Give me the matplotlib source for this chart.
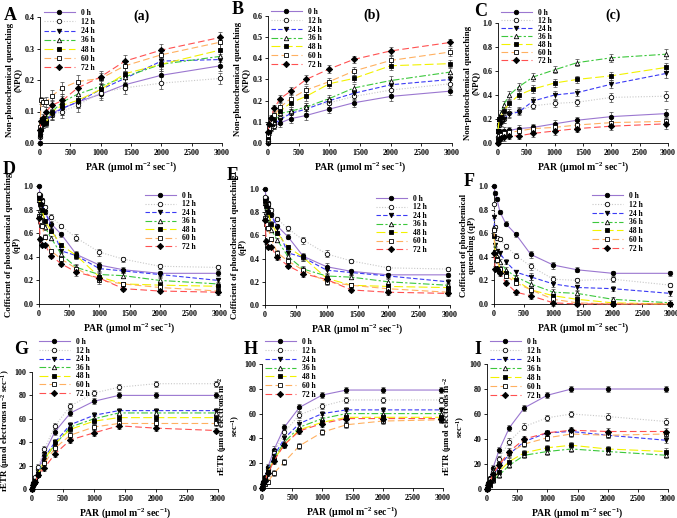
import matplotlib
matplotlib.use("Agg")
import matplotlib.pyplot as plt

plt.rcParams['font.family'] = ['Liberation Serif', 'DejaVu Serif']
plt.rcParams['font.weight'] = 'bold'
plt.rcParams['mathtext.fontset'] = 'custom'
plt.rcParams['mathtext.rm'] = 'Liberation Serif:bold'
plt.rcParams['mathtext.bf'] = 'Liberation Serif:bold'
plt.rcParams['mathtext.it'] = 'Liberation Serif:bold'
plt.rcParams['mathtext.default'] = 'bf'

# ---------------- data ----------------
par = [0, 20, 50, 100, 200, 370, 620, 1000, 1400, 2000, 2970]
labels = ["0 h", "12 h", "24 h", "36 h", "48 h", "60 h", "72 h"]

npq_a = [
    [0.0, 0.04, 0.06, 0.07, 0.095, 0.11, 0.13, 0.155, 0.185, 0.215, 0.245],
    [0.02, 0.05, 0.07, 0.08, 0.09, 0.10, 0.12, 0.16, 0.175, 0.19, 0.205],
    [0.02, 0.05, 0.06, 0.07, 0.09, 0.11, 0.13, 0.17, 0.205, 0.26, 0.265],
    [0.03, 0.06, 0.07, 0.08, 0.10, 0.13, 0.155, 0.18, 0.21, 0.25, 0.275],
    [0.03, 0.06, 0.07, 0.065, 0.10, 0.12, 0.135, 0.17, 0.22, 0.25, 0.295],
    [0.05, 0.135, 0.13, 0.13, 0.15, 0.175, 0.195, 0.205, 0.245, 0.28, 0.32],
    [0.04, 0.07, 0.08, 0.10, 0.12, 0.135, 0.175, 0.21, 0.26, 0.295, 0.335],
]
npq_b = [
    [0.0, 0.05, 0.07, 0.08, 0.095, 0.115, 0.13, 0.16, 0.19, 0.22, 0.245],
    [0.01, 0.05, 0.07, 0.08, 0.12, 0.14, 0.17, 0.19, 0.22, 0.25, 0.28],
    [0.01, 0.05, 0.08, 0.09, 0.11, 0.14, 0.16, 0.20, 0.235, 0.275, 0.30],
    [0.02, 0.06, 0.08, 0.10, 0.14, 0.15, 0.17, 0.21, 0.26, 0.295, 0.335],
    [0.03, 0.06, 0.09, 0.11, 0.15, 0.19, 0.22, 0.28, 0.305, 0.365, 0.375],
    [0.04, 0.07, 0.10, 0.13, 0.17, 0.21, 0.25, 0.29, 0.34, 0.39, 0.43],
    [0.05, 0.09, 0.12, 0.165, 0.21, 0.245, 0.30, 0.35, 0.395, 0.435, 0.475],
]
npq_c = [
    [0.0, 0.08, 0.09, 0.10, 0.105, 0.12, 0.13, 0.16, 0.19, 0.22, 0.245],
    [0.05, 0.15, 0.18, 0.20, 0.25, 0.27, 0.31, 0.33, 0.34, 0.38, 0.39],
    [0.10, 0.15, 0.17, 0.20, 0.24, 0.26, 0.35, 0.40, 0.42, 0.49, 0.58],
    [0.10, 0.20, 0.25, 0.32, 0.40, 0.47, 0.55, 0.61, 0.67, 0.71, 0.74],
    [0.10, 0.20, 0.22, 0.27, 0.33, 0.40, 0.45, 0.50, 0.53, 0.56, 0.63],
    [0.03, 0.06, 0.07, 0.08, 0.09, 0.10, 0.12, 0.13, 0.15, 0.17, 0.18],
    [0.0, 0.03, 0.04, 0.05, 0.06, 0.06, 0.08, 0.10, 0.12, 0.14, 0.16],
]
qp_d = [
    [1.0, 0.92, 0.88, 0.78, 0.68, 0.59, 0.42, 0.33, 0.29, 0.26, 0.26],
    [0.93, 0.90, 0.87, 0.82, 0.74, 0.66, 0.56, 0.44, 0.38, 0.32, 0.31],
    [0.90, 0.87, 0.84, 0.78, 0.66, 0.45, 0.41, 0.30, 0.28, 0.25, 0.20],
    [0.88, 0.80, 0.75, 0.65, 0.56, 0.42, 0.31, 0.25, 0.24, 0.20, 0.17],
    [0.90, 0.85, 0.80, 0.70, 0.62, 0.50, 0.41, 0.23, 0.17, 0.16, 0.15],
    [0.75, 0.70, 0.66, 0.57, 0.45, 0.38, 0.30, 0.20, 0.17, 0.14, 0.11],
    [0.73, 0.55, 0.50, 0.50, 0.41, 0.34, 0.27, 0.22, 0.13, 0.11, 0.10],
]
qp_e = [
    [1.0, 0.92, 0.88, 0.78, 0.68, 0.59, 0.42, 0.33, 0.29, 0.26, 0.26],
    [0.93, 0.90, 0.87, 0.82, 0.74, 0.66, 0.56, 0.44, 0.38, 0.32, 0.31],
    [0.90, 0.87, 0.84, 0.78, 0.66, 0.45, 0.41, 0.30, 0.28, 0.25, 0.20],
    [0.88, 0.80, 0.75, 0.65, 0.56, 0.42, 0.31, 0.25, 0.24, 0.20, 0.17],
    [0.90, 0.85, 0.80, 0.70, 0.62, 0.50, 0.41, 0.23, 0.17, 0.16, 0.15],
    [0.75, 0.70, 0.66, 0.57, 0.45, 0.38, 0.30, 0.20, 0.17, 0.14, 0.11],
    [0.73, 0.55, 0.50, 0.50, 0.41, 0.34, 0.27, 0.22, 0.13, 0.11, 0.10],
]
qp_f = [
    [1.0, 0.94, 0.89, 0.78, 0.68, 0.59, 0.42, 0.33, 0.29, 0.26, 0.26],
    [0.85, 0.65, 0.56, 0.55, 0.49, 0.41, 0.32, 0.21, 0.20, 0.21, 0.16],
    [0.74, 0.50, 0.45, 0.43, 0.36, 0.27, 0.23, 0.17, 0.14, 0.13, 0.09],
    [0.64, 0.47, 0.41, 0.36, 0.29, 0.23, 0.17, 0.10, 0.09, 0.04, 0.01],
    [0.58, 0.43, 0.38, 0.30, 0.26, 0.20, 0.12, 0.07, 0.04, 0.01, 0.0],
    [0.63, 0.44, 0.37, 0.30, 0.24, 0.18, 0.12, 0.04, 0.01, 0.0, 0.0],
    [0.43, 0.30, 0.30, 0.26, 0.18, 0.10, 0.07, 0.01, 0.0, 0.0, 0.0],
]
etr_g = [
    [0, 4, 8, 17, 31, 49, 65, 75, 80, 80, 80],
    [0, 5, 10, 19, 34, 54, 71, 82, 87, 90, 90],
    [0, 4, 7, 13, 27, 40, 55, 63, 67, 67, 67],
    [0, 4, 7, 13, 25, 38, 53, 60, 65, 65, 65],
    [0, 4, 7, 13, 25, 39, 51, 58, 61, 61, 61],
    [0, 3, 6, 12, 22, 35, 46, 53, 56, 56, 56],
    [0, 3, 6, 12, 18, 30, 42, 48, 54, 52, 50],
]
etr_h = [
    [0, 5, 9, 17, 31, 49, 65, 75, 79, 79, 79],
    [0, 4, 8, 15, 28, 45, 59, 66, 71, 71, 71],
    [0, 4, 8, 15, 26, 40, 52, 60, 63, 63, 63],
    [0, 3, 7, 14, 24, 37, 49, 56, 60, 60, 60],
    [0, 3, 7, 13, 23, 35, 47, 53, 57, 57, 57],
    [0, 1, 3, 5, 12, 21, 34, 45, 51, 54, 55],
    [0, 3, 6, 12, 22, 35, 46, 52, 56, 56, 56],
]
etr_i = [
    [0, 5, 9, 17, 31, 49, 65, 75, 80, 80, 80],
    [0, 4, 8, 14, 24, 38, 50, 57, 60, 58, 54],
    [0, 3, 6, 10, 18, 28, 38, 45, 46, 43, 39],
    [0, 1, 3, 7, 11, 19, 27, 30, 32, 30, 27],
    [0, 2, 4, 8, 14, 22, 29, 33, 35, 32, 30],
    [0, 3, 6, 11, 20, 29, 36, 41, 44, 43, 44],
    [0, 3, 6, 12, 19, 30, 40, 45, 47, 46, 46],
]

# error bars (approximate, per PAR step)
err_npq_ab = [0.005, 0.01, 0.012, 0.015, 0.018, 0.02, 0.02, 0.018, 0.018, 0.02, 0.018]
err_npq_c = [0.01, 0.02, 0.025, 0.03, 0.03, 0.03, 0.03, 0.03, 0.03, 0.035, 0.04]
err_qp = [0.01, 0.02, 0.02, 0.02, 0.02, 0.02, 0.03, 0.03, 0.02, 0.02, 0.02]
err_etr = [0.5, 1.0, 1.5, 2.0, 2.5, 2.5, 2.5, 2.5, 2.5, 2.5, 2.5]

colors = ["#9B77D0", "#C8C8C8", "#3B3BF5", "#3CC83C", "#F2F200", "#FFB060", "#FF5050"]
dashes = [None, (1, 1.5), (4, 2), (6, 2, 2, 2), (8, 3), (6, 3), (6, 3)]
markers = ["o", "o", "v", "^", "s", "s", "D"]
mfaces = ["black", "white", "black", "white", "black", "white", "black"]

W, H = 677, 518
fig = plt.figure(figsize=(W / 100, H / 100), dpi=100)

def rect(x0, x1, top, bot):
    return [x0 / W, 1 - bot / H, (x1 - x0) / W, (bot - top) / H]

npq_lab = "Non-photochemical quenching\n(NPQ)"
qp_lab = "Cofficient of photochemical quenching\n(qP)"
qp_lab_f = "Cofficient of photochemical\nquenching (qP)"
etr_lab = "rETR (\u03bcmol electrons m$^{-2}$ sec$^{-1}$)"
etr_lab2 = "rETR (\u03bcmol electrons m$^{-2}$\nsec$^{-1}$)"
par_lab = "PAR (\u03bcmol m$^{-2}$ sec$^{-1}$)"

panels = [
    ("A", "(a)", npq_a, err_npq_ab, rect(40, 222, 17, 143), (0, 0.4), [0, 0.1, 0.2, 0.3, 0.4], "{:.1f}", npq_lab, (44, 9), 0.15),
    ("B", "(b)", npq_b, err_npq_ab, rect(268, 452, 16, 143), (0, 0.6), [0, 0.1, 0.2, 0.3, 0.4, 0.5, 0.6], "{:.1f}", npq_lab, (271, 8), 0.1),
    ("C", "(c)", npq_c, err_npq_c, rect(498, 668, 23, 143), (0, 1.0), [0, 0.2, 0.4, 0.6, 0.8, 1.0], "{:.1f}", npq_lab, (501, 9), 0.0),
    ("D", None, qp_d, err_qp, rect(39, 220, 186, 304), (0, 1.0), [0, 0.2, 0.4, 0.6, 0.8, 1.0], "{:.1f}", qp_lab, (145, 192), 0.06),
    ("E", None, qp_e, err_qp, rect(265, 450, 189, 305), (0, 1.0), [0, 0.2, 0.4, 0.6, 0.8, 1.0], "{:.1f}", qp_lab, (376, 195), 0.06),
    ("F", None, qp_f, err_qp, rect(494, 672, 186, 304), (0, 1.0), [0, 0.2, 0.4, 0.6, 0.8, 1.0], "{:.1f}", qp_lab_f, (592, 192), 0.1),
    ("G", None, etr_g, err_etr, rect(32, 218, 372, 489), (0, 100), [0, 20, 40, 60, 80, 100], "{:.0f}", etr_lab, (39, 338), 0.08),
    ("H", None, etr_h, err_etr, rect(262, 443, 364, 488), (0, 100), [0, 20, 40, 60, 80, 100], "{:.0f}", etr_lab2, (265, 338), 0.1),
    ("I", None, etr_i, err_etr, rect(487, 668, 364, 489), (0, 100), [0, 20, 40, 60, 80, 100], "{:.0f}", etr_lab2, (490, 338), 0.12),
]

letter_pos = {"A": (10, 15), "B": (238, 10), "C": (481, 12), "D": (9, 170), "E": (233, 175),
              "F": (469, 181), "G": (21, 349), "H": (251, 349), "I": (478, 349)}
sub_pos = {"A": (142, 16), "B": (372, 15), "C": (613, 15)}

for letter, sub, data, err, r, ylim, yticks, yfmt, ylab, legpos, lsp in panels:
    ax = fig.add_axes(r)
    handles = []
    for k, series in enumerate(data):
        kw = dict(color=colors[k], lw=0.8, marker=markers[k], markersize=3.2,
                  markerfacecolor=mfaces[k], markeredgecolor="black", markeredgewidth=0.6,
                  clip_on=False, zorder=3)
        if dashes[k] is None:
            kw["linestyle"] = "-"
        else:
            kw["dashes"] = dashes[k]
        ax.errorbar(par, series, yerr=err, fmt="none", ecolor="#444444", elinewidth=0.5,
                    capsize=1.5, capthick=0.5, zorder=2, clip_on=False)
        ln, = ax.plot(par, series, **kw)
        handles.append(ln)
    ax.set_xlim(0, 3000)
    ax.set_ylim(*ylim)
    ax.set_xticks([0, 500, 1000, 1500, 2000, 2500, 3000])
    ax.set_yticks(yticks)
    ax.set_yticklabels([yfmt.format(v) for v in yticks])
    ax.spines["top"].set_visible(False)
    ax.spines["right"].set_visible(False)
    ax.spines["left"].set_linewidth(0.6)
    ax.spines["bottom"].set_linewidth(0.6)
    ax.tick_params(direction="out", length=2.5, width=0.6, labelsize=5.8, pad=1.5)
    for lab in ax.get_xticklabels() + ax.get_yticklabels():
        lab.set_fontweight("bold")
    ax.set_xlabel(par_lab, fontsize=7, fontweight="bold", labelpad=2.5)
    ax.set_ylabel(ylab, fontsize=6.3, fontweight="bold", labelpad=2, linespacing=1.0)
    lx, ly = legpos
    ax.legend(handles, labels, loc="upper left", bbox_to_anchor=(lx / W, 1 - ly / H),
              bbox_transform=fig.transFigure, frameon=False,
              handlelength=4.0, handletextpad=0.8, labelspacing=lsp, borderpad=0,
              borderaxespad=0, prop={"weight": "bold", "size": 5.5})
    px, py = letter_pos[letter]
    fig.text(px / W, 1 - py / H, letter, fontsize=13, fontweight="bold", ha="center", va="center")
    if sub:
        sx, sy = sub_pos[letter]
        fig.text(sx / W, 1 - sy / H, sub, fontsize=10, fontweight="bold", ha="center", va="center")

fig.savefig("out.png", dpi=100)
